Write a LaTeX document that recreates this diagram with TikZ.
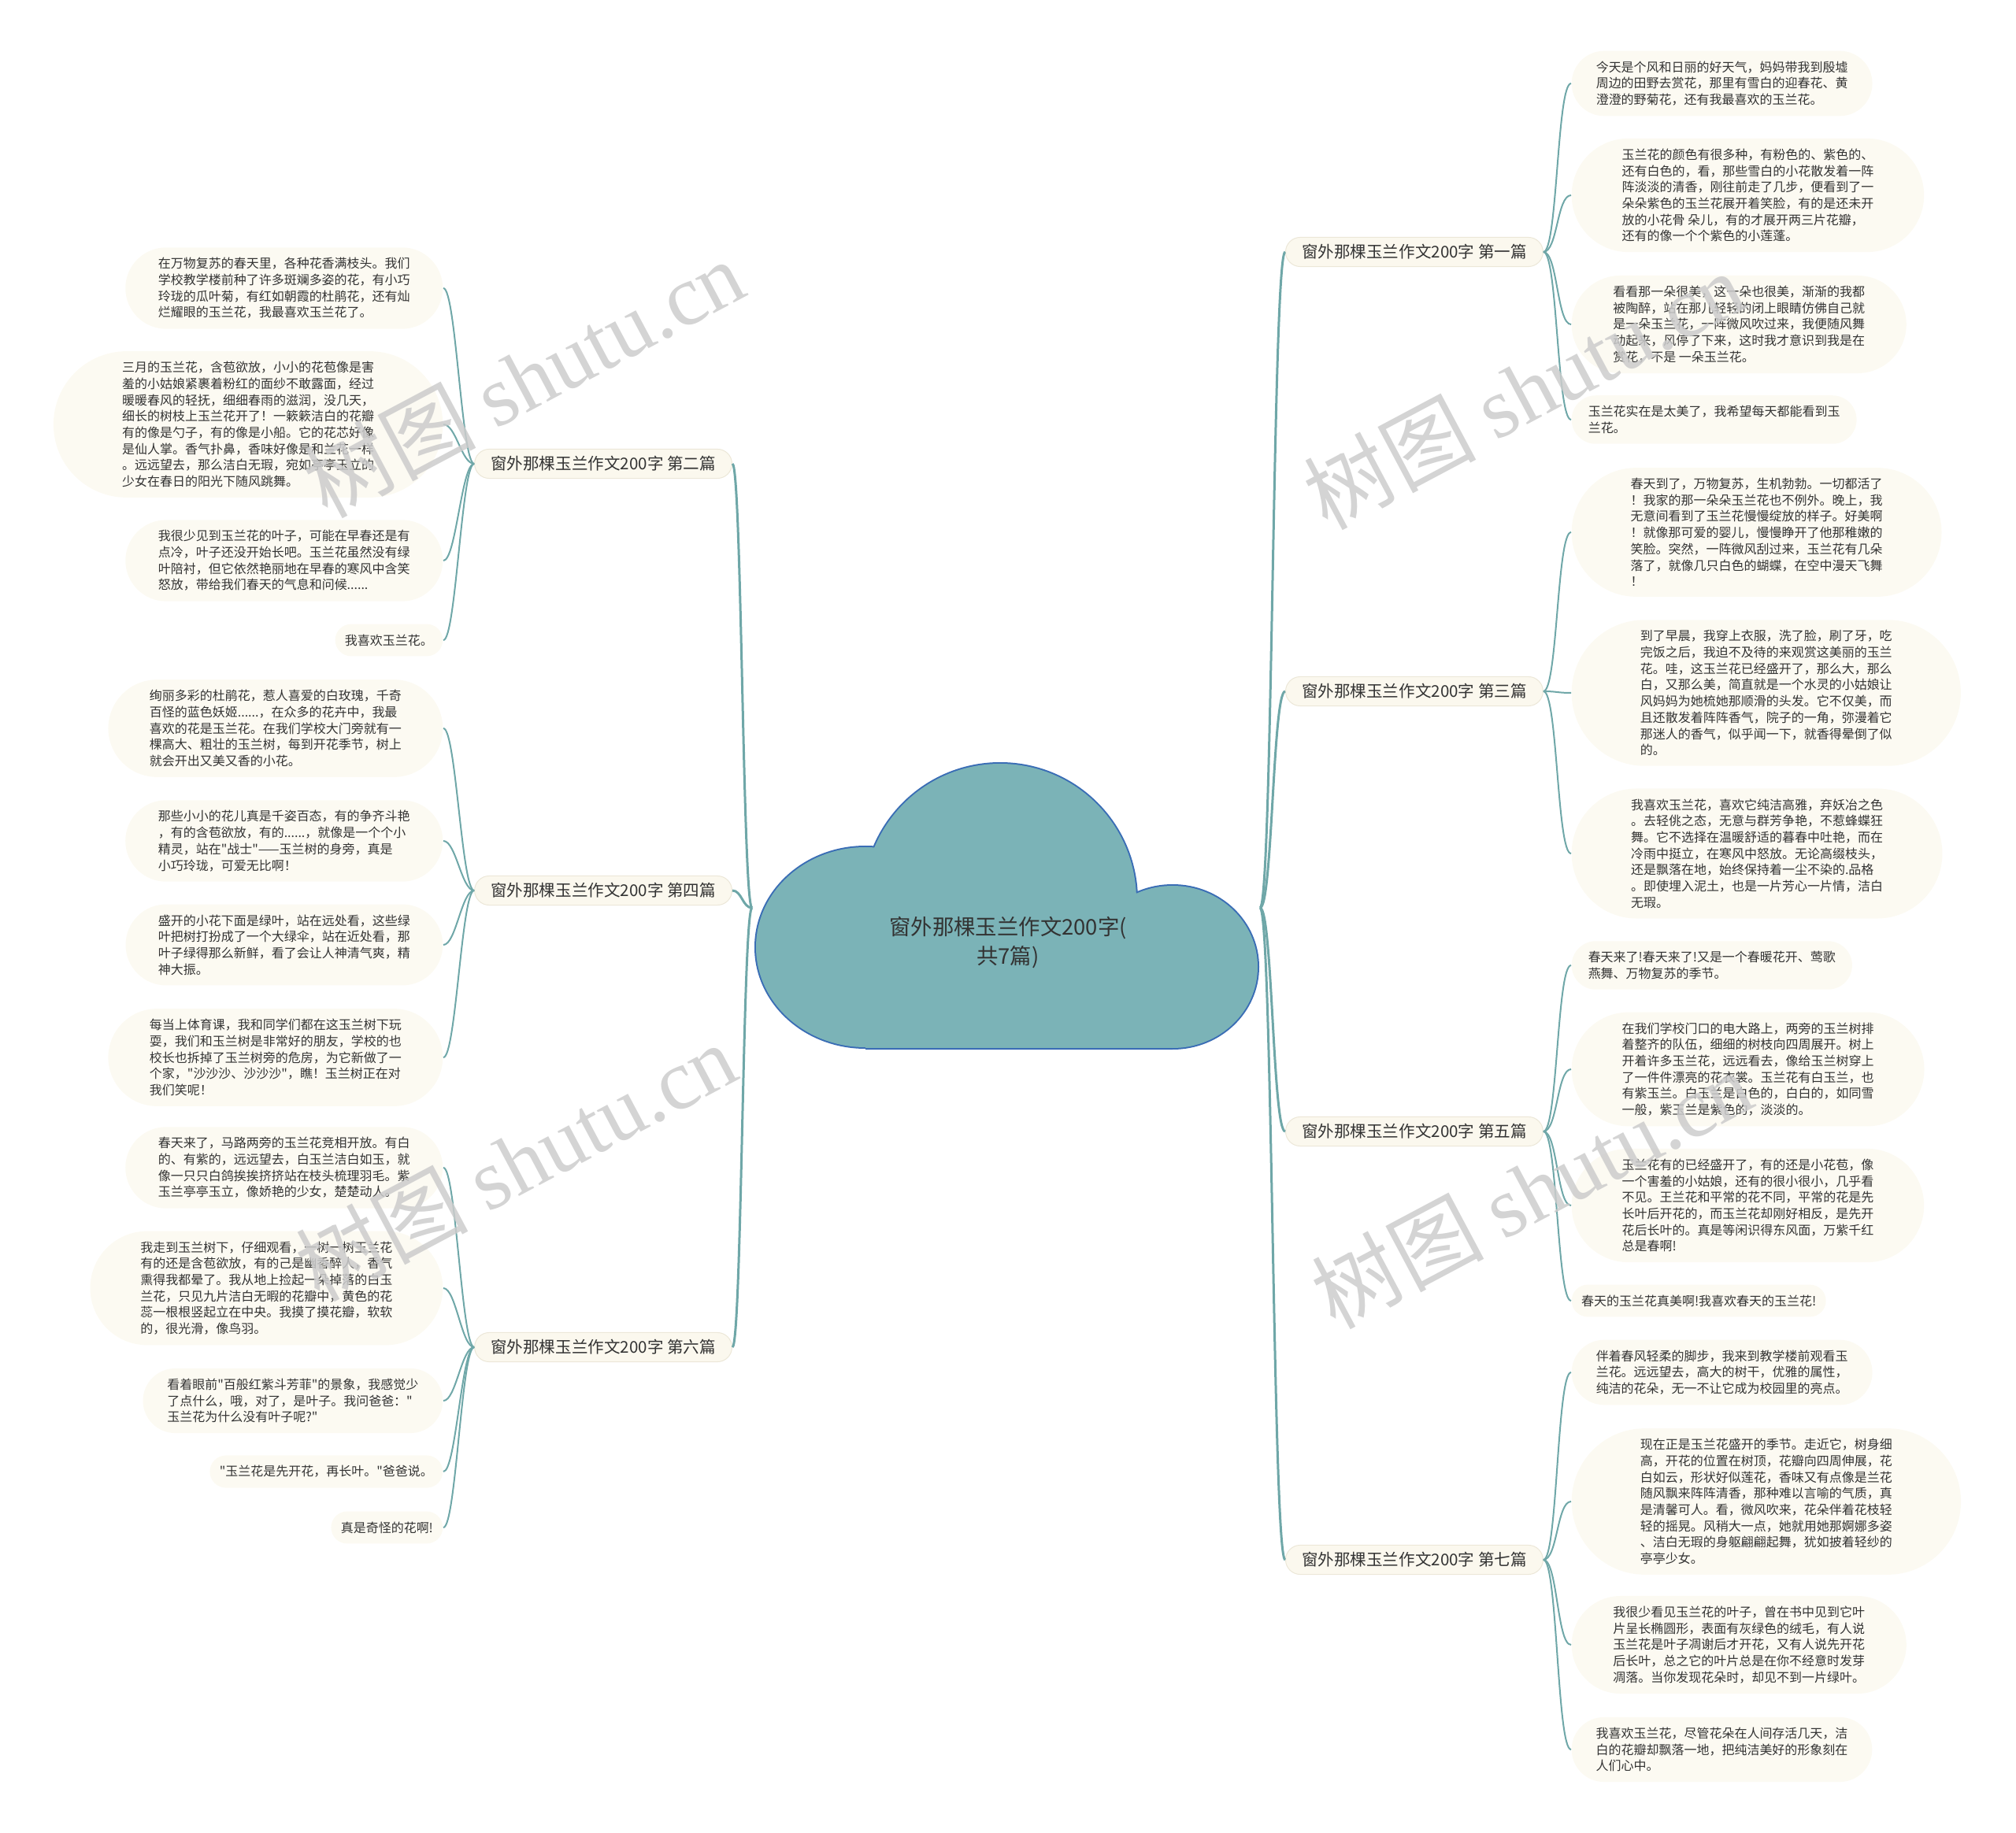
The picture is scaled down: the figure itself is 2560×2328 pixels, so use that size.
\documentclass[tikz,border=0pt]{standalone}
\usepackage{fontspec}
\setmainfont{Noto Sans CJK SC}[Ligatures=TeXOff]
\newfontfamily\wmlatin{Liberation Serif}
\usetikzlibrary{shapes.misc}
\definecolor{linec}{HTML}{6FA7A8}
\definecolor{cloudc}{HTML}{7BB3B7}
\definecolor{cloudrim}{HTML}{3A6DB5}
\definecolor{leafbg}{HTML}{FCFAF2}
\definecolor{tpbg}{HTML}{FBF8EE}
\definecolor{tprim}{HTML}{ECE7D8}
\definecolor{txtc}{HTML}{333333}
\tikzset{
  lf/.style={rounded rectangle,fill=leafbg,inner xsep=0.66mm+#1*0.44mm,inner ysep=1.3mm,align=left,text=txtc,font=\fontsize{4.55pt}{5.89pt}\selectfont},
  tp/.style={rounded rectangle,fill=tpbg,draw=tprim,line width=0.1mm,inner xsep=1.8mm,inner ysep=0.9mm,text=txtc,font=\fontsize{5.85pt}{7pt}\selectfont},
  ln/.style={linec,line width=0.2mm},
  lk/.style={linec,line width=0.3mm},
  wm/.style={text=black!20,opacity=0.85,rotate=28,font=\fontsize{31pt}{31pt}\selectfont}
}

\begin{document}
\begin{tikzpicture}[x=0.1mm,y=-0.1mm]
\useasboundingbox (0,0) rectangle (2560,2328);
\draw[cloudrim,line width=0.4mm] (1270,1143) circle (173) (1099,1203) ellipse [x radius=139,y radius=127]
 (1489,1228) ellipse [x radius=108,y radius=103] (1099,1331) -- (1489,1331);
\fill[cloudc] (1270,1143) circle (173);
\fill[cloudc] (1099,1203) ellipse [x radius=139,y radius=127];
\fill[cloudc] (1489,1228) ellipse [x radius=108,y radius=103];
\fill[cloudc] (1099,1203) rectangle (1489,1331);
\node[text=txtc,align=center,font=\fontsize{7.8pt}{10.7pt}\selectfont] (root) at (1280,1197) {窗外那棵玉兰作文200字(\\共7篇)};
\coordinate (rootL) at (955,1153);
\coordinate (rootR) at (1600,1153);

\node[tp,anchor=west] (t1) at (1632,320) {窗外那棵玉兰作文200字 第一篇};
\node[tp,anchor=east] (t2) at (930,589) {窗外那棵玉兰作文200字 第二篇};
\node[tp,anchor=west] (t3) at (1632,878) {窗外那棵玉兰作文200字 第三篇};
\node[tp,anchor=east] (t4) at (930,1131) {窗外那棵玉兰作文200字 第四篇};
\node[tp,anchor=west] (t5) at (1632,1437) {窗外那棵玉兰作文200字 第五篇};
\node[tp,anchor=east] (t6) at (930,1711) {窗外那棵玉兰作文200字 第六篇};
\node[tp,anchor=west] (t7) at (1632,1981) {窗外那棵玉兰作文200字 第七篇};

\node[lf=3,anchor=west] (t1a) at (1995,106) {今天是个风和日丽的好天气，妈妈带我到殷墟\\周边的田野去赏花，那里有雪白的迎春花、黄\\澄澄的野菊花，还有我最喜欢的玉兰花。};
\node[lf=6,anchor=west] (t1b) at (1995,248) {玉兰花的颜色有很多种，有粉色的、紫色的、\\还有白色的，看，那些雪白的小花散发着一阵\\阵淡淡的清香，刚往前走了几步，便看到了一\\朵朵紫色的玉兰花展开着笑脸，有的是还未开\\放的小花骨 朵儿，有的才展开两三片花瓣，\\还有的像一个个紫色的小莲蓬。};
\node[lf=5,anchor=west] (t1c) at (1995,412) {看看那一朵很美，这一朵也很美，渐渐的我都\\被陶醉，站在那儿轻轻的闭上眼睛仿佛自己就\\是一朵玉兰花，一阵微风吹过来，我便随风舞\\动起来，风停了下来，这时我才意识到我是在\\赏花，不是 一朵玉兰花。};
\node[lf=2,anchor=west] (t1d) at (1995,533) {玉兰花实在是太美了，我希望每天都能看到玉\\兰花。};

\node[lf=7,anchor=west] (t3a) at (1995,676) {春天到了，万物复苏，生机勃勃。一切都活了\\！我家的那一朵朵玉兰花也不例外。晚上，我\\无意间看到了玉兰花慢慢绽放的样子。好美啊\\！就像那可爱的婴儿，慢慢睁开了他那稚嫩的\\笑脸。突然，一阵微风刮过来，玉兰花有几朵\\落了，就像几只白色的蝴蝶，在空中漫天飞舞\\！};
\node[lf=8,anchor=west] (t3b) at (1995,880) {到了早晨，我穿上衣服，洗了脸，刷了牙，吃\\完饭之后，我迫不及待的来观赏这美丽的玉兰\\花。哇，这玉兰花已经盛开了，那么大，那么\\白，又那么美，简直就是一个水灵的小姑娘让\\风妈妈为她梳她那顺滑的头发。它不仅美，而\\且还散发着阵阵香气，院子的一角，弥漫着它\\那迷人的香气，似乎闻一下，就香得晕倒了似\\的。};
\node[lf=7,anchor=west] (t3c) at (1995,1084) {我喜欢玉兰花，喜欢它纯洁高雅，弃妖冶之色\\。去轻佻之态，无意与群芳争艳，不惹蜂蝶狂\\舞。它不选择在温暖舒适的暮春中吐艳，而在\\冷雨中挺立，在寒风中怒放。无论高缀枝头，\\还是飘落在地，始终保持着一尘不染的.品格\\。即使埋入泥土，也是一片芳心一片情，洁白\\无瑕。};

\node[lf=2,anchor=west] (t5a) at (1995,1226) {春天来了!春天来了!又是一个春暖花开、莺歌\\燕舞、万物复苏的季节。};
\node[lf=6,anchor=west] (t5b) at (1995,1358) {在我们学校门口的电大路上，两旁的玉兰树排\\着整齐的队伍，细细的树枝向四周展开。树上\\开着许多玉兰花，远远看去，像给玉兰树穿上\\了一件件漂亮的花衣裳。玉兰花有白玉兰，也\\有紫玉兰。白玉兰是白色的，白白的，如同雪\\一般，紫玉兰是紫色的，淡淡的。};
\node[lf=6,anchor=west] (t5c) at (1995,1531) {玉兰花有的已经盛开了，有的还是小花苞，像\\一个害羞的小姑娘，还有的很小很小，几乎看\\不见。王兰花和平常的花不同，平常的花是先\\长叶后开花的，而玉兰花却刚好相反，是先开\\花后长叶的。真是等闲识得东风面，万紫千红\\总是春啊!};
\node[lf=1,anchor=west] (t5d) at (1995,1652) {春天的玉兰花真美啊!我喜欢春天的玉兰花!};

\node[lf=3,anchor=west] (t7a) at (1995,1743) {伴着春风轻柔的脚步，我来到教学楼前观看玉\\兰花。远远望去，高大的树干，优雅的属性，\\纯洁的花朵，无一不让它成为校园里的亮点。};
\node[lf=8,anchor=west] (t7b) at (1995,1907) {现在正是玉兰花盛开的季节。走近它，树身细\\高，开花的位置在树顶，花瓣向四周伸展，花\\白如云，形状好似莲花，香味又有点像是兰花\\随风飘来阵阵清香，那种难以言喻的气质，真\\是清馨可人。看，微风吹来，花朵伴着花枝轻\\轻的摇晃。风稍大一点，她就用她那婀娜多姿\\、洁白无瑕的身躯翩翩起舞，犹如披着轻纱的\\亭亭少女。};
\node[lf=5,anchor=west] (t7c) at (1995,2089) {我很少看见玉兰花的叶子，曾在书中见到它叶\\片呈长椭圆形，表面有灰绿色的绒毛，有人说\\玉兰花是叶子凋谢后才开花，又有人说先开花\\后长叶，总之它的叶片总是在你不经意时发芽\\凋落。当你发现花朵时，却见不到一片绿叶。};
\node[lf=3,anchor=west] (t7d) at (1995,2222) {我喜欢玉兰花，尽管花朵在人间存活几天，洁\\白的花瓣却飘落一地，把纯洁美好的形象刻在\\人们心中。};

\node[lf=4,anchor=east] (t2a) at (563,366) {在万物复苏的春天里，各种花香满枝头。我们\\学校教学楼前种了许多斑斓多姿的花，有小巧\\玲珑的瓜叶菊，有红如朝霞的杜鹃花，还有灿\\烂耀眼的玉兰花，我最喜欢玉兰花了。};
\node[lf=8,anchor=east] (t2b) at (563,539) {三月的玉兰花，含苞欲放，小小的花苞像是害\\羞的小姑娘紧裹着粉红的面纱不敢露面，经过\\暖暖春风的轻抚，细细春雨的滋润，没几天，\\细长的树枝上玉兰花开了！一簌簌洁白的花瓣\\有的像是勺子，有的像是小船。它的花芯好像\\是仙人掌。香气扑鼻，香味好像是和兰花一样\\。远远望去，那么洁白无瑕，宛如亭亭玉立的\\少女在春日的阳光下随风跳舞。};
\node[lf=4,anchor=east] (t2c) at (563,712) {我很少见到玉兰花的叶子，可能在早春还是有\\点冷，叶子还没开始长吧。玉兰花虽然没有绿\\叶陪衬，但它依然艳丽地在早春的寒风中含笑\\怒放，带给我们春天的气息和问候......};
\node[lf=1,anchor=east] (t2d) at (563,813) {我喜欢玉兰花。};

\node[lf=5,anchor=east] (t4a) at (563,925) {绚丽多彩的杜鹃花，惹人喜爱的白玫瑰，千奇\\百怪的蓝色妖姬......，在众多的花卉中，我最\\喜欢的花是玉兰花。在我们学校大门旁就有一\\棵高大、粗壮的玉兰树，每到开花季节，树上\\就会开出又美又香的小花。};
\node[lf=4,anchor=east] (t4b) at (563,1068) {那些小小的花儿真是千姿百态，有的争齐斗艳\\，有的含苞欲放，有的......，就像是一个个小\\精灵，站在"战士"——玉兰树的身旁，真是\\小巧玲珑，可爱无比啊！};
\node[lf=4,anchor=east] (t4c) at (563,1200) {盛开的小花下面是绿叶，站在远处看，这些绿\\叶把树打扮成了一个大绿伞，站在近处看，那\\叶子绿得那么新鲜，看了会让人神清气爽，精\\神大振。};
\node[lf=5,anchor=east] (t4d) at (563,1343) {每当上体育课，我和同学们都在这玉兰树下玩\\耍，我们和玉兰树是非常好的朋友，学校的也\\校长也拆掉了玉兰树旁的危房，为它新做了一\\个家，"沙沙沙、沙沙沙"，瞧！玉兰树正在对\\我们笑呢！};

\node[lf=4,anchor=east] (t6a) at (563,1483) {春天来了，马路两旁的玉兰花竞相开放。有白\\的、有紫的，远远望去，白玉兰洁白如玉，就\\像一只只白鸽挨挨挤挤站在枝头梳理羽毛。紫\\玉兰亭亭玉立，像娇艳的少女，楚楚动人。};
\node[lf=6,anchor=east] (t6b) at (563,1636) {我走到玉兰树下，仔细观看，一树一树玉兰花\\有的还是含苞欲放，有的己是幽香醉人，香气\\熏得我都晕了。我从地上捡起一朵掉落的白玉\\兰花，只见九片洁白无暇的花瓣中，黄色的花\\蕊一根根竖起立在中央。我摸了摸花瓣，软软\\的，很光滑，像鸟羽。};
\node[lf=3,anchor=east] (t6c) at (563,1779) {看着眼前"百般红紫斗芳菲"的景象，我感觉少\\了点什么，哦，对了，是叶子。我问爸爸："\\玉兰花为什么没有叶子呢?"};
\node[lf=1,anchor=east] (t6d) at (563,1869) {"玉兰花是先开花，再长叶。"爸爸说。};
\node[lf=1,anchor=east] (t6e) at (563,1940) {真是奇怪的花啊!};

\foreach \t in {t1,t3,t5,t7}
  \draw[lk] (rootR) .. controls +(16,0) and +(-16,0) .. (\t.west);
\foreach \t in {t2,t4,t6}
  \draw[lk] (rootL) .. controls +(-12,0) and +(12,0) .. (\t.east);
\foreach \t/\l in {t1/a,t1/b,t1/c,t1/d,t3/a,t3/b,t3/c,t5/a,t5/b,t5/c,t5/d,t7/a,t7/b,t7/c,t7/d}
  \draw[ln] (\t.east) .. controls +(18,0) and +(-18,0) .. (\t\l.west);
\foreach \t/\l in {t2/a,t2/b,t2/c,t2/d,t4/a,t4/b,t4/c,t4/d,t6/a,t6/b,t6/c,t6/d,t6/e}
  \draw[ln] (\t.west) .. controls +(-16,0) and +(16,0) .. (\t\l.east);

\node[wm] (wm1) at (665,480) {树图 {\wmlatin shutu.cn}};
\node[wm] (wm2) at (1935,495) {树图 {\wmlatin shutu.cn}};
\node[wm] (wm3) at (655,1475) {树图 {\wmlatin shutu.cn}};
\node[wm] (wm4) at (1945,1510) {树图 {\wmlatin shutu.cn}};
\end{tikzpicture}
\end{document}
